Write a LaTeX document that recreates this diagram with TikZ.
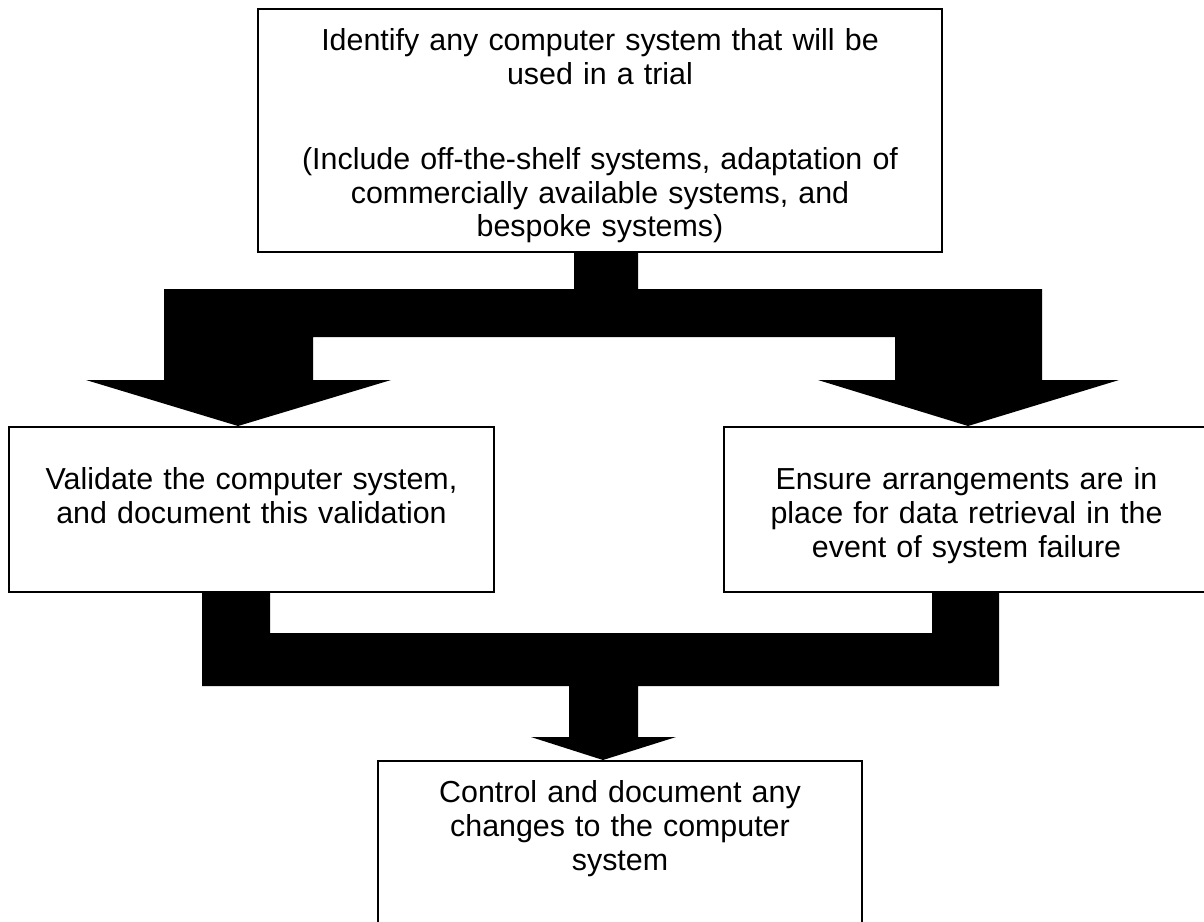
\documentclass[tikz,border=0pt]{standalone}
\usepackage{fontspec}
\setmainfont{Liberation Sans}
\usetikzlibrary{calc}

\begin{document}
\begin{tikzpicture}[
  x=0.02cm, y=-0.02cm,
  font=\fontsize{17.3pt}{19.2pt}\selectfont,
  stage/.style={rectangle,draw,line width=1pt,align=center,anchor=north,inner xsep=0pt,inner ysep=0pt},
  flow/.style={fill=black}
]
\useasboundingbox (0,0) rectangle (1204,921);
\clip (0,0) rectangle (1204,921);

\node[stage,text width=13.68cm,text height=0.84cm,text depth=4.02cm] (ident) at (600,8)
  {Identify any computer system that will be\\used in a trial\\[1.02cm]
   (Include off-the-shelf systems, adaptation of\\commercially available systems, and\\bespoke systems)};
\node[stage,text width=9.7cm,text height=1.26cm,text depth=2.04cm] (valid) at (251.5,426)
  {Validate the computer system,\\and document this validation};
\node[stage,text width=9.7cm,text height=1.26cm,text depth=2.04cm] (retr) at (966.5,426)
  {Ensure arrangements are in\\place for data retrieval in the\\event of system failure};
\node[stage,text width=9.68cm,text height=0.84cm,text depth=3.4cm] (ctrl) at (620,760)
  {Control and document any\\changes to the computer\\system};

% split: one stem into two block arrows
\fill[flow] ($(ident.south)+(-26,0)$) -- ($(ident.south)+(38,0)$) -- (638,289) -- (1042,289)
  -- (1042,380) -- (1119,380) -- ($(retr.north)+(1.5,0)$) -- (818,380) -- (895,380)
  -- (895,337) -- (313,337) -- (313,380) -- (391,380) -- ($(valid.north)+(-13.5,0)$)
  -- (86,380) -- (164,380) -- (164,289) -- (574,289) -- cycle;

% merge: both boxes into the last one
\fill[flow] ($(valid.south)+(-49.5,0)$) -- ($(valid.south)+(18.5,0)$) -- (270,633) -- (932,633)
  -- ($(retr.south)+(-34.5,0)$) -- ($(retr.south)+(32.5,0)$) -- (999,686) -- (638,686)
  -- (638,737) -- (676,737) -- ($(ctrl.north)+(-17,0)$) -- (531,737) -- (569,737)
  -- (569,686) -- (202,686) -- cycle;
\end{tikzpicture}
\end{document}
